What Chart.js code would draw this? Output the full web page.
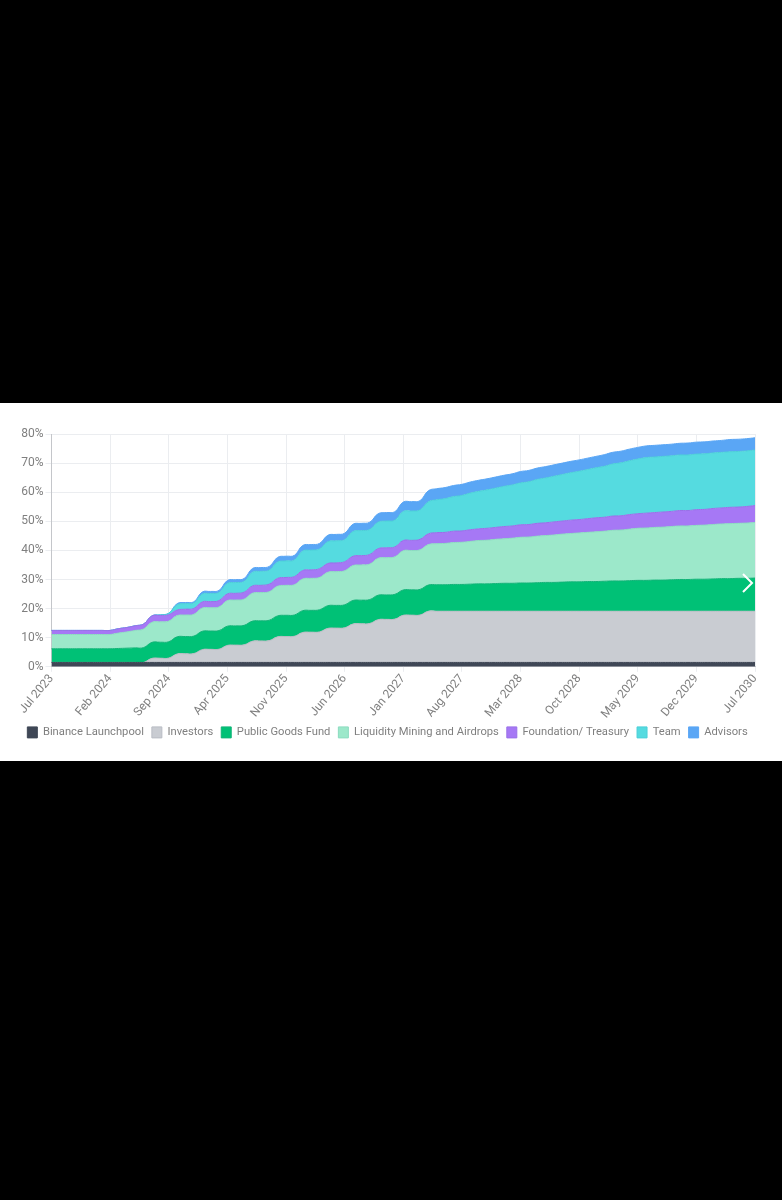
<!DOCTYPE html>
<html>
<head>
<meta charset="utf-8">
<title>Token release schedule</title>
<script src="https://cdn.jsdelivr.net/npm/chart.js@4"></script>
<style>
html, body { margin: 0; padding: 0; background: #000; }
body { width: 782px; height: 1200px; position: relative; overflow: hidden; }
#box { position: absolute; left: 0; top: 403px; width: 782px; height: 358px; background: #fff; }
#chart { position: absolute; left: 0; top: 0; filter: blur(0.6px); }
#arrow { position: absolute; left: 741px; top: 170px; }
</style>
</head>
<body>
<div id="box">
  <canvas id="chart" width="782" height="358" style="width:782px;height:358px"></canvas>
  <svg id="arrow" width="14" height="20"><polyline points="2,1 11,10 2,19" fill="none" stroke="#fff" stroke-width="2"/></svg>
</div>
<script>
const months = [
  "Jul 2023","Aug 2023","Sep 2023","Oct 2023","Nov 2023","Dec 2023","Jan 2024","Feb 2024","Mar 2024","Apr 2024","May 2024","Jun 2024",
  "Jul 2024","Aug 2024","Sep 2024","Oct 2024","Nov 2024","Dec 2024","Jan 2025","Feb 2025","Mar 2025","Apr 2025","May 2025","Jun 2025",
  "Jul 2025","Aug 2025","Sep 2025","Oct 2025","Nov 2025","Dec 2025","Jan 2026","Feb 2026","Mar 2026","Apr 2026","May 2026","Jun 2026",
  "Jul 2026","Aug 2026","Sep 2026","Oct 2026","Nov 2026","Dec 2026","Jan 2027","Feb 2027","Mar 2027","Apr 2027","May 2027","Jun 2027",
  "Jul 2027","Aug 2027","Sep 2027","Oct 2027","Nov 2027","Dec 2027","Jan 2028","Feb 2028","Mar 2028","Apr 2028","May 2028","Jun 2028",
  "Jul 2028","Aug 2028","Sep 2028","Oct 2028","Nov 2028","Dec 2028","Jan 2029","Feb 2029","Mar 2029","Apr 2029","May 2029","Jun 2029",
  "Jul 2029","Aug 2029","Sep 2029","Oct 2029","Nov 2029","Dec 2029","Jan 2030","Feb 2030","Mar 2030","Apr 2030","May 2030","Jun 2030",
  "Jul 2030"
]

const binance = [
  1.5,1.5,1.5,1.5,1.5,1.5,1.5,1.5,1.5,1.5,1.5,1.5,1.5,1.5,1.5,1.5,1.5,1.5,1.5,1.5,1.5,1.5,1.5,1.5,1.5,1.5,1.5,1.5,1.5,
  1.5,1.5,1.5,1.5,1.5,1.5,1.5,1.5,1.5,1.5,1.5,1.5,1.5,1.5,1.5,1.5,1.5,1.5,1.5,1.5,1.5,1.5,1.5,1.5,1.5,1.5,1.5,1.5,
  1.5,1.5,1.5,1.5,1.5,1.5,1.5,1.5,1.5,1.5,1.5,1.5,1.5,1.5,1.5,1.5,1.5,1.5,1.5,1.5,1.5,1.5,1.5,1.5,1.5,1.5,1.5,1.5
]
const investors = [
  0,0,0,0,0,0,0,0,0,0,0,0,
  1.4,1.45,1.5,2.9,3.0,3.05,4.4,4.5,4.55,5.85,5.95,6.05,7.3,7.4,7.5,8.8,8.9,9.0,10.3,10.4,10.5,11.7,11.8,11.9,
  13.2,13.3,13.4,14.7,14.8,14.9,16.2,16.25,16.3,17.6,
  17.6,17.6,17.6,17.6,17.6,17.6,17.6,17.6,17.6,17.6,17.6,17.6,17.6,17.6,17.6,17.6,17.6,17.6,17.6,17.6,
  17.6,17.6,17.6,17.6,17.6,17.6,17.6,17.6,17.6,17.6,17.6,17.6,17.6,17.6,17.6,17.6,17.6,17.6,17.6
]
const publicGoods = [
  4.7,4.7,4.7,4.7,4.7,4.7,4.7,4.7,4.8,4.9,5.0,5.1,
  5.5,5.5,5.6,5.9,5.9,6.0,6.3,6.3,6.4,6.6,6.6,6.7,6.9,6.9,7.0,7.2,7.3,7.3,7.5,7.5,7.6,7.8,7.8,7.9,
  8.1,8.1,8.2,8.4,8.4,8.5,8.7,8.7,8.8,9.0,
  9.1,9.1,9.2,9.2,9.3,9.4,9.4,9.5,9.6,9.6,9.7,9.7,9.8,9.9,9.9,10.0,10.1,10.1,10.2,10.2,
  10.3,10.4,10.4,10.5,10.6,10.6,10.7,10.7,10.8,10.9,10.9,11.0,11.0,11.1,11.2,11.2,11.3,11.3,11.4
]
const liquidity = [
  4.9,4.9,4.9,4.9,4.9,4.9,4.9,4.9,5.3,5.6,6.0,6.4,
  6.9,7.0,7.1,7.3,7.4,7.5,8.0,8.0,8.1,8.8,8.9,9.0,9.6,9.7,9.8,10.2,10.3,10.4,10.9,11.0,11.1,11.5,11.6,11.7,
  12.0,12.1,12.2,12.7,12.8,12.9,13.5,13.5,13.6,13.9,
  14.1,14.2,14.4,14.5,14.7,14.9,15.0,15.2,15.3,15.5,15.7,15.8,16.0,16.1,16.3,16.5,16.6,16.8,16.9,17.1,
  17.2,17.4,17.5,17.7,17.9,18.0,18.1,18.2,18.3,18.4,18.4,18.5,18.6,18.7,18.8,18.9,18.9,19.0,19.1
]
const foundation = [
  1.4,1.4,1.4,1.4,1.4,1.4,1.4,1.4,1.5,1.5,1.6,1.7,
  2.2,2.2,2.2,1.9,2.0,2.0,2.1,2.1,2.2,2.3,2.3,2.4,2.5,2.5,2.6,2.7,2.7,2.8,2.9,2.9,3.0,3.0,3.0,3.1,
  3.2,3.2,3.3,3.3,3.4,3.4,3.5,3.5,3.6,3.7,
  3.8,3.8,3.9,3.9,4.0,4.0,4.1,4.1,4.2,4.2,4.3,4.3,4.4,4.4,4.5,4.5,4.6,4.6,4.7,4.8,
  4.8,4.9,4.9,5.0,5.0,5.1,5.1,5.2,5.2,5.3,5.3,5.4,5.4,5.5,5.5,5.6,5.6,5.7,5.8
]
const team = [
  0,0,0,0,0,0,0,0,0,0,0,0,0,0.2,0.5,
  1.8,1.9,1.9,2.7,2.8,2.8,3.6,3.7,3.7,4.7,4.8,4.8,5.6,5.7,5.7,6.7,6.8,6.8,7.5,7.6,7.6,
  8.5,8.6,8.6,9.1,9.2,9.2,10.0,10.1,10.1,11.0,
  11.3,11.6,11.9,12.2,12.6,12.9,13.2,13.5,13.8,14.1,14.4,14.7,15.1,15.4,15.7,16.0,16.3,16.6,16.9,17.2,
  17.5,17.9,18.2,18.5,18.8,19.1,19.1,19.1,19.1,19.1,19.1,19.1,19.1,19.1,19.1,19.1,19.1,19.1,19.1
]
const advisors = [
  0,0,0,0,0,0,0,0,0,0,0,0,0,0,0,
  0.4,0.4,0.4,0.7,0.7,0.7,1.0,1.0,1.0,1.3,1.3,1.3,1.6,1.6,1.6,1.9,1.9,1.9,2.2,2.2,2.2,
  2.5,2.5,2.5,2.9,2.9,2.9,3.2,3.2,3.2,3.8,
  3.8,3.8,3.8,3.8,3.8,3.8,3.8,3.8,3.8,3.8,3.9,3.9,3.9,3.9,3.9,3.9,3.9,3.9,3.9,3.9,
  4.0,4.0,4.0,4.0,4.0,4.0,4.0,4.0,4.0,4.0,4.1,4.1,4.1,4.1,4.1,4.2,4.2,4.2,4.2
]

const textcolor = "#7f7f7f"
const tickfont = { family: "Roboto", size: 12 }
const legendfont = { family: "Roboto", size: 11.2 }

function makeseries(label, values, color, line, fill) {
    return {
        label: label,
        data: values,
        backgroundColor: color,
        borderColor: line,
        borderWidth: 1,
        pointRadius: 0,
        fill: fill,
        tension: 0.45
    }
}

// the legend sits a bit right of where the right padding would centre it
const legendshift = {
    id: "legendshift",
    afterLayout(chart) {
        chart.legend.left += 10
        chart.legend.right += 10
    }
}

new Chart(document.getElementById("chart"), {
    type: "line",
    plugins: [legendshift],
    data: {
        labels: months,
        datasets: [
            makeseries("Binance Launchpool", binance, "#3f4756", "#3f4756", "origin"),
            makeseries("Investors", investors, "#c9ccd2", "#b9bcc4", "-1"),
            makeseries("Public Goods Fund", publicGoods, "#00c176", "#12b478", "-1"),
            makeseries("Liquidity Mining and Airdrops", liquidity, "#9ce8ca", "#8cdcc0", "-1"),
            makeseries("Foundation/ Treasury", foundation, "#a678f5", "#9a70e8", "-1"),
            makeseries("Team", team, "#55dbe0", "#4ccfd8", "-1"),
            makeseries("Advisors", advisors, "#5aa6f5", "#5aa6f5", "-1")
        ]
    },
    options: {
        responsive: false,
        animation: false,
        layout: { padding: { top: 31, right: 27, bottom: 13, left: 0 } },
        plugins: {
            tooltip: { enabled: false },
            legend: {
                position: "bottom",
                labels: { color: textcolor, font: legendfont, boxWidth: 10, boxHeight: 11, padding: 8 }
            }
        },
        scales: {
            x: {
                stacked: true,
                offset: false,
                afterBuildTicks: (scale) => { scale.ticks = scale.ticks.filter((t, i) => i % 7 == 0) },
                afterFit: (scale) => { scale.height = 52 },
                grid: { color: "#ebedf0", tickLength: 5 },
                border: { color: "#c4c6ca" },
                ticks: { autoSkip: false, minRotation: 50, maxRotation: 50, color: textcolor, font: tickfont, padding: 0 }
            },
            y: {
                stacked: true,
                min: 0,
                max: 80,
                afterFit: (scale) => { scale.width = 51.5 },
                grid: { color: "#ebedf0", tickLength: 6 },
                border: { color: "#c4c6ca" },
                ticks: { stepSize: 10, color: textcolor, font: tickfont, padding: 2, callback: (v) => v + "%" }
            }
        }
    }
})
</script>
</body>
</html>
